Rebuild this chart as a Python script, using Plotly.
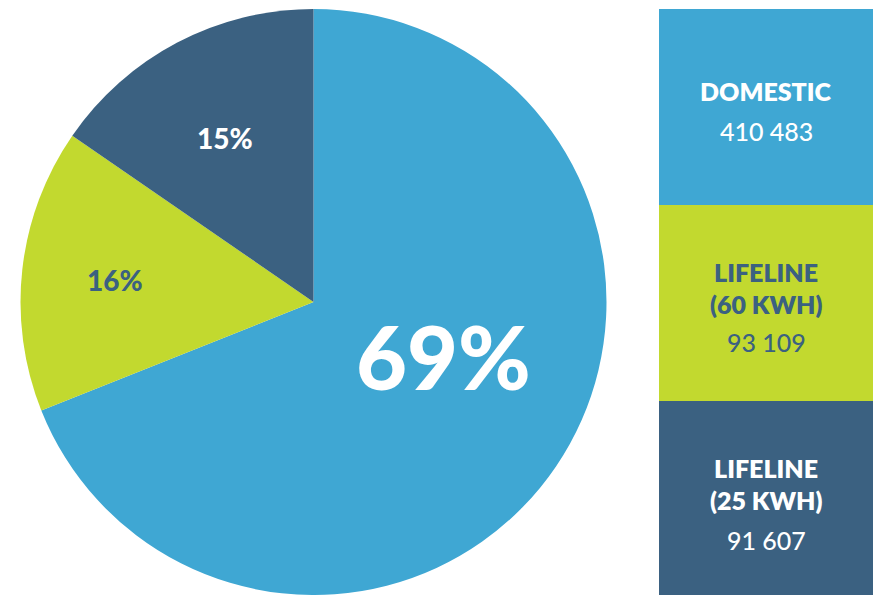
import plotly.graph_objects as go

# ---- data ----
categories = ["DOMESTIC", "LIFELINE<br>(60 KWH)", "LIFELINE<br>(25 KWH)"]
values = [410483, 93109, 91607]
value_labels = ["410 483", "93 109", "91 607"]

# ---- styles ----
colors = ["#3FA7D3", "#C2D92F", "#3B6181"]
text_colors = ["#FFFFFF", "#3B6181", "#FFFFFF"]
W, H = 879, 595
FONT = "Lato"

total = sum(values)
pcts = [f"{round(v / total * 100)}%" for v in values]

fig = go.Figure()
fig.add_trace(go.Pie(
    labels=[c.replace("<br>", " ") for c in categories],
    values=values,
    sort=False,
    direction="clockwise",
    rotation=0,
    marker=dict(colors=colors, line=dict(width=0)),
    textinfo="none",
    hoverinfo="label+value+percent",
    showlegend=False,
    domain=dict(x=[19 / W, 608 / W], y=[0, 586 / H]),
))

def px(x, y):
    return x / W, 1 - y / H

annotations = []
# percentage labels on slices
pct_pos = [(444, 356), (115, 280), (225, 138)]
pct_sizes = [88, 28, 28]
pct_colors = ["#FFFFFF", "#3B6181", "#FFFFFF"]
for p, (x, y), s, c in zip(pcts, pct_pos, pct_sizes, pct_colors):
    ax, ay = px(x, y)
    annotations.append(dict(text=p, x=ax, y=ay, xref="paper", yref="paper",
                            showarrow=False, xanchor="center", yanchor="middle",
                            font=dict(family=FONT, size=s, color=c, weight=900)))

# legend boxes
shapes = []
box_x0, box_x1 = 659, 873
box_tops = [9, 205, 401]
box_h = 196
name_pos = [[91], [272, 304], [468, 500]]
num_pos = [131, 342, 540]
for i in range(3):
    y0 = box_tops[i]
    y1 = min(y0 + box_h, H + 5)
    x0p, y0p = px(box_x0, y0)
    x1p, y1p = px(box_x1, y1)
    shapes.append(dict(type="rect", xref="paper", yref="paper",
                       x0=x0p, x1=x1p, y0=y1p, y1=y0p,
                       fillcolor=colors[i], line=dict(width=0), layer="below"))
    lines = categories[i].split("<br>")
    for ln, yy in zip(lines, name_pos[i]):
        ax, ay = px((box_x0 + box_x1) / 2, yy)
        annotations.append(dict(text=ln, x=ax, y=ay, xref="paper", yref="paper",
                                showarrow=False, xanchor="center", yanchor="middle",
                                font=dict(family=FONT, size=25, color=text_colors[i], weight=800)))
    ax, ay = px((box_x0 + box_x1) / 2, num_pos[i])
    annotations.append(dict(text=value_labels[i], x=ax, y=ay, xref="paper", yref="paper",
                            showarrow=False, xanchor="center", yanchor="middle",
                            font=dict(family=FONT, size=25, color=text_colors[i], weight=500)))

fig.update_layout(
    width=W, height=H,
    margin=dict(l=0, r=0, t=0, b=0),
    paper_bgcolor="white", plot_bgcolor="white",
    shapes=shapes, annotations=annotations,
)

fig.write_html("out.html")
